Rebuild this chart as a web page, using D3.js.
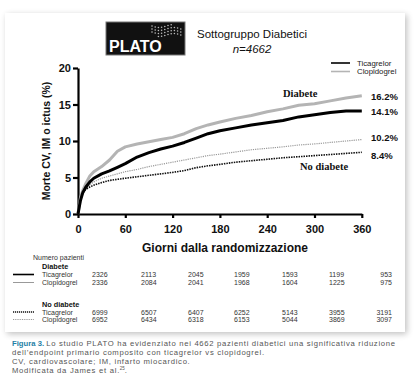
<!DOCTYPE html>
<html><head><meta charset="utf-8">
<script src="https://cdn.jsdelivr.net/npm/d3@7"></script>
<style>
html,body{margin:0;padding:0;background:#fff;}
svg{display:block;}
</style></head>
<body>
<svg id="c" width="418" height="391"></svg>
<script>
// ---- data ----
const days = [0,3,6,10,15,20,30,40,50,60,75,90,105,120,135,150,165,180,200,220,240,260,280,300,320,340,360];
const clopiDiab = [0,2.2,3.2,4.2,5.2,5.8,6.5,7.4,8.6,9.2,9.6,9.9,10.2,10.5,11.0,11.7,12.2,12.6,13.1,13.5,14.0,14.4,14.9,15.1,15.5,15.9,16.2];
const ticaDiab  = [0,1.8,2.9,3.7,4.4,4.9,5.5,5.9,6.4,6.9,7.8,8.4,8.9,9.3,9.8,10.4,11.0,11.4,11.8,12.2,12.5,12.8,13.3,13.6,13.9,14.1,14.1];
const clopiNoDiab = [0,1.9,2.9,3.5,4.0,4.4,4.9,5.2,5.5,5.8,6.1,6.5,6.8,7.1,7.4,7.7,8.0,8.2,8.5,8.8,9.0,9.2,9.45,9.6,9.8,10.0,10.2];
const ticaNoDiab  = [0,1.9,2.9,3.4,3.7,3.95,4.3,4.6,4.75,4.9,5.1,5.3,5.5,5.7,5.95,6.35,6.6,6.8,7.1,7.3,7.5,7.7,7.85,8.0,8.15,8.3,8.45];
const endLabels = ["16.2%","14.1%","10.2%","8.4%"];
const xTicks = [0,60,120,180,240,300,360];
const yTicks = [0,5,10,15,20];
const tabTicaDiab = [2326,2113,2045,1959,1593,1199,953];
const tabClopiDiab = [2336,2084,2041,1968,1604,1225,975];
const tabTicaNo = [6999,6507,6407,6252,5143,3955,3191];
const tabClopiNo = [6952,6434,6318,6153,5044,3869,3097];
const captionLines = [
  "Lo studio PLATO ha evidenziato nei 4662 pazienti diabetici una significativa riduzione",
  "dell’endpoint primario composito con ticagrelor vs clopidogrel.",
  "CV, cardiovascolare; IM, infarto miocardico.",
  "Modificata da James et al."
];

const svg = d3.select("#c");
const sans = "'Liberation Sans', Arial, sans-serif";

// card with shadow
const defs = svg.append("defs");
const f = defs.append("filter").attr("id","sh").attr("x","-10%").attr("y","-10%").attr("width","120%").attr("height","120%");
f.append("feGaussianBlur").attr("in","SourceAlpha").attr("stdDeviation",3);
f.append("feOffset").attr("dx",2).attr("dy",2).attr("result","b");
f.append("feComponentTransfer").append("feFuncA").attr("type","linear").attr("slope",0.25);
const m = f.append("feMerge"); m.append("feMergeNode"); m.append("feMergeNode").attr("in","SourceGraphic");
svg.append("rect").attr("x",5).attr("y",13).attr("width",400).attr("height",319).attr("fill","#fff").attr("filter","url(#sh)");

// logo
const logo = svg.append("g");
logo.append("rect").attr("x",106).attr("y",22).attr("width",79).attr("height",33).attr("fill","#111").attr("stroke","#777").attr("stroke-width",1);
logo.append("text").attr("x",109).attr("y",52).attr("fill","#fff").attr("font-family",sans).attr("font-weight","bold").attr("font-size",16).text("PLATO");
for (let r=0;r<4;r++){ for(let c=0;c<10;c++){
  const cx = 152 + c*3.2, cy = 26 + r*3 + Math.sin(c*0.7)*1.5;
  if ((r===0 && c>6) || (r===3 && c<2)) continue;
  logo.append("circle").attr("cx",cx).attr("cy",cy).attr("r",0.8).attr("fill","#bbb");
}}

// title
svg.append("text").attr("x",252).attr("y",38).attr("text-anchor","middle").attr("font-family",sans).attr("font-size",11.5).attr("fill","#111").text("Sottogruppo Diabetici");
svg.append("text").attr("x",252).attr("y",53).attr("text-anchor","middle").attr("font-family",sans).attr("font-style","italic").attr("font-size",11.5).attr("fill","#111").text("n=4662");

// scales
const x = d3.scaleLinear().domain([0,360]).range([78,361.8]);
const y = d3.scaleLinear().domain([0,20]).range([214,68]);

// axes
const xa = svg.append("g").attr("transform","translate(0,214)").call(d3.axisBottom(x).tickValues(xTicks).tickSize(4).tickSizeOuter(0).tickPadding(7));
const ya = svg.append("g").attr("transform","translate(78,0)").call(d3.axisLeft(y).tickValues(yTicks).tickSize(5).tickSizeOuter(0).tickPadding(2));
[xa,ya].forEach(a=>{
  a.selectAll("path,line").attr("stroke","#000").attr("stroke-width",2.2);
  a.selectAll("text").attr("font-family",sans).attr("font-weight","bold").attr("font-size",11).attr("fill","#111");
});
svg.append("text").attr("x",225).attr("y",252).attr("text-anchor","middle").attr("font-family",sans).attr("font-weight","bold").attr("font-size",12).attr("fill","#111").text("Giorni dalla randomizzazione");
svg.append("text").attr("transform","translate(50,141) rotate(-90)").attr("text-anchor","middle").attr("font-family",sans).attr("font-weight","bold").attr("font-size",10.5).attr("fill","#111").text("Morte CV, IM o ictus (%)");

// lines
const line = vals => d3.line().x((d,i)=>x(days[i])).y(d=>y(d))(vals);
const series = [
  {v:clopiNoDiab, stroke:"#999", w:1.2, dash:"1.2,1"},
  {v:ticaNoDiab, stroke:"#111", w:1.6, dash:"1.5,1"},
  {v:clopiDiab, stroke:"#b4b4b4", w:3, dash:null},
  {v:ticaDiab, stroke:"#000", w:3, dash:null}
];
series.forEach(s=>{
  svg.append("path").attr("d",line(s.v)).attr("fill","none").attr("stroke",s.stroke).attr("stroke-width",s.w)
    .attr("stroke-dasharray",s.dash).attr("stroke-linejoin","round");
});

// end labels
const endVals = [clopiDiab, ticaDiab, clopiNoDiab, ticaNoDiab].map(a=>a[a.length-1]);
const endOffsets = [0, 0, 0.3, -0.3];
endLabels.forEach((t,i)=>{
  svg.append("text").attr("x",371).attr("y",y(endVals[i]+endOffsets[i])+4).attr("font-family",sans).attr("font-weight","bold").attr("font-size",9.5).attr("fill","#111").text(t);
});
svg.append("text").attr("x",283).attr("y",97).attr("font-family","'Liberation Serif', 'Times New Roman', serif").attr("font-weight","bold").attr("font-size",10.5).attr("fill","#111").text("Diabete");
svg.append("text").attr("x",300).attr("y",170).attr("font-family","'Liberation Serif', 'Times New Roman', serif").attr("font-weight","bold").attr("font-size",10.5).attr("fill","#111").text("No diabete");

// legend
[["Ticagrelor","#000",63],["Clopidogrel","#b4b4b4",71.5]].forEach(([t,c,yy])=>{
  svg.append("line").attr("x1",331).attr("x2",350).attr("y1",yy).attr("y2",yy).attr("stroke",c).attr("stroke-width",1.6);
  svg.append("text").attr("x",357).attr("y",yy+2.5).attr("font-family",sans).attr("font-size",7.8).attr("fill","#222").text(t);
});

// table
const colX = [92,141,188,234,282,329];
const tfs = 7;
svg.append("text").attr("x",33).attr("y",260).attr("font-family",sans).attr("font-size",tfs).attr("fill","#333").text("Numero pazienti");
function groupHead(t,yy){ svg.append("text").attr("x",42).attr("y",yy).attr("font-family",sans).attr("font-weight","bold").attr("font-size",tfs+0.3).attr("fill","#111").text(t); }
function row(label,vals,yy,stroke,w,dash){
  svg.append("line").attr("x1",13).attr("x2",34).attr("y1",yy-2.5).attr("y2",yy-2.5).attr("stroke",stroke).attr("stroke-width",w).attr("stroke-dasharray",dash);
  svg.append("text").attr("x",42).attr("y",yy).attr("font-family",sans).attr("font-size",tfs).attr("fill","#333").text(label);
  vals.forEach((v,i)=>{
    const last = i===vals.length-1;
    svg.append("text").attr("x",last?392:colX[i]).attr("y",yy).attr("text-anchor",last?"end":"start")
      .attr("font-family",sans).attr("font-size",tfs).attr("fill","#333").text(v);
  });
}
groupHead("Diabete",268.5);
row("Ticagrelor",tabTicaDiab,277,"#000",1.6,null);
row("Clopidogrel",tabClopiDiab,285,"#999",1,null);
groupHead("No diabete",306.5);
row("Ticagrelor",tabTicaNo,314.5,"#111",1.3,"1.2,0.8");
row("Clopidogrel",tabClopiNo,322,"#999",1,"1,0.8");

// caption
const capFont = sans, capFs = 7.7;
const fig = svg.append("text").attr("x",12).attr("y",345.5).attr("font-family",capFont).attr("font-size",capFs)
  .attr("font-weight","bold").attr("fill","#1f7fa6").text("Figura 3.");
const figW = fig.node().getComputedTextLength();
let ratio = 1;
captionLines.forEach((l,i)=>{
  const x0 = i===0 ? 12+figW+2.2 : 12;
  const t = svg.append("text").attr("x", x0).attr("y",345.5+i*9)
    .attr("font-family",capFont).attr("font-size",capFs).attr("fill","#555").text(l);
  let w = t.node().getComputedTextLength();
  if (i===0){
    const target = 395 - x0;
    ratio = Math.max(1, target / w);
  }
  if (ratio > 1){ w = w*ratio; t.attr("textLength", w).attr("lengthAdjust","spacing"); }
  if (i===3){
    svg.append("text").attr("x",12+w+0.5).attr("y",342.5+i*9).attr("font-family",capFont).attr("font-size",4.5).attr("fill","#555").text("25");
    svg.append("text").attr("x",12+w+5.5).attr("y",345.5+i*9).attr("font-family",capFont).attr("font-size",capFs).attr("fill","#555").text(".");
  }
});
</script>
</body></html>
